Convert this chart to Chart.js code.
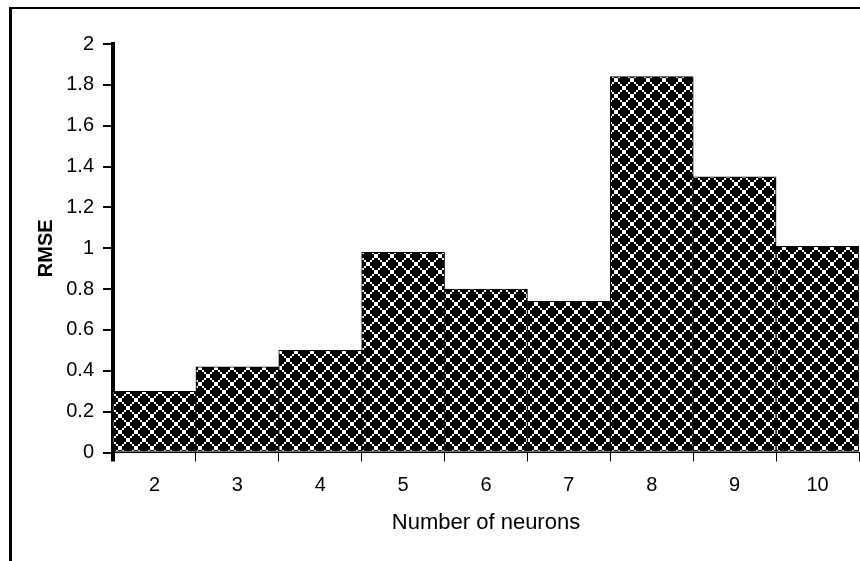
<!DOCTYPE html>
<html>
<head>
<meta charset="utf-8">
<script src="https://cdn.jsdelivr.net/npm/chart.js@4/dist/chart.umd.min.js"></script>
<style>
  html, body { margin: 0; padding: 0; background: #fff; }
  #wrap { width: 860px; height: 561px; position: relative; }
</style>
</head>
<body>
<div id="wrap"><canvas id="c" width="860" height="561"></canvas></div>
<script>
// Network size vs. error
const neurons = ['2', '3', '4', '5', '6', '7', '8', '9', '10'];
const rmse = [0.30, 0.42, 0.50, 0.98, 0.80, 0.74, 1.84, 1.35, 1.01];
const yTicks = [0, 0.2, 0.4, 0.6, 0.8, 1, 1.2, 1.4, 1.6, 1.8, 2];

// Black fill with white outlines around rounded cells (8x8 cell drawn at 2x)
function latticePattern() {
  const tile = document.createElement('canvas');
  tile.width = 16; tile.height = 16;
  const t = tile.getContext('2d');
  t.fillStyle = '#fff';
  t.fillRect(0, 0, 16, 16);
  t.fillStyle = '#000';
  const centers = [[0, 0], [8, 0], [0, 8], [8, 8], [4, 4]];
  for (let j = 0; j < 8; j++) {
    for (let i = 0; i < 8; i++) {
      const px = i + 0.5, py = j + 0.5;
      const inside = centers.some(([cx, cy]) => {
        const dx = Math.abs(px - cx), dy = Math.abs(py - cy);
        return dx + dy <= 3 && Math.max(dx, dy) <= 2.5;
      });
      if (inside) t.fillRect(i * 2, j * 2, 2, 2);
    }
  }
  return document.getElementById('c').getContext('2d').createPattern(tile, 'repeat');
}

// Outer frame: left and top edges only
const framePlugin = {
  id: 'frame',
  beforeDraw(chart) {
    const ctx = chart.ctx;
    ctx.save();
    ctx.fillStyle = '#000';
    ctx.fillRect(9, 7, 3, 561 - 7);
    ctx.fillRect(9, 7, 860 - 9, 2);
    ctx.restore();
  }
};

const FONT = "'Liberation Sans', Arial, sans-serif";

new Chart(document.getElementById('c'), {
  type: 'bar',
  data: {
    labels: neurons,
    datasets: [{
      data: rmse,
      backgroundColor: latticePattern(),
      borderColor: '#000',
      borderWidth: 1,
      borderSkipped: false,
      barPercentage: 1,
      categoryPercentage: 1
    }]
  },
  options: {
    responsive: false,
    animation: false,
    events: [],
    layout: { padding: { left: 34, right: 1, top: 44, bottom: 25 } },
    plugins: { legend: { display: false }, tooltip: { enabled: false } },
    scales: {
      x: {
        offset: true,
        grid: {
          offset: true,
          drawOnChartArea: false,
          drawTicks: true,
          tickLength: 9,
          color: '#000',
          lineWidth: ctx => (ctx.index === 0 ? 4 : 1)
        },
        border: { display: true, color: '#000', width: 1 },
        ticks: {
          color: '#000',
          padding: 12,
          font: { family: FONT, size: 20 },
          maxRotation: 0
        },
        title: {
          display: true,
          text: 'Number of neurons',
          color: '#000',
          font: { family: FONT, size: 22 },
          padding: { top: 0, bottom: 0 }
        },
        afterFit(axis) { axis.height = 83.5; }
      },
      y: {
        min: 0,
        max: 2,
        afterBuildTicks(axis) { axis.ticks = yTicks.map(v => ({ value: v })); },
        grid: {
          drawOnChartArea: false,
          drawTicks: true,
          tickLength: 10,
          color: '#000',
          lineWidth: 2
        },
        border: { display: true, color: '#000', width: 4 },
        ticks: {
          color: '#000',
          padding: 9,
          font: { family: FONT, size: 20 },
          callback: v => String(v)
        },
        title: {
          display: true,
          text: 'RMSE',
          color: '#000',
          font: { family: "'Liberation Sans Narrow', 'Liberation Sans', Arial, sans-serif", size: 20, weight: 'bold' },
          padding: { top: 0, bottom: 0 }
        },
        afterFit(axis) { axis.width = 79; }
      }
    }
  },
  plugins: [framePlugin]
});
</script>
</body>
</html>
